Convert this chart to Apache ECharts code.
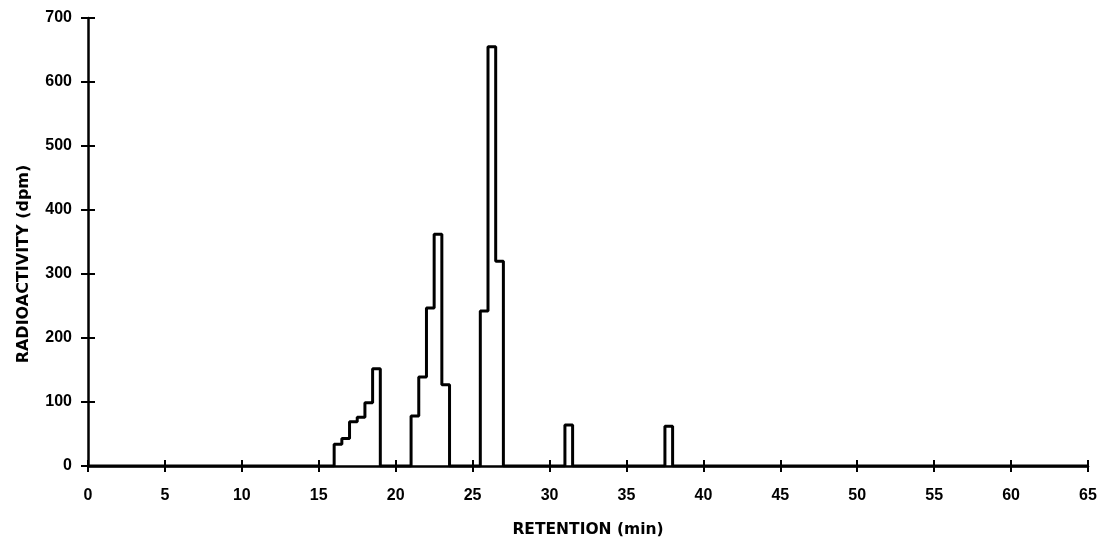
<!DOCTYPE html>
<html>
<head>
<meta charset="utf-8">
<script src="https://cdn.jsdelivr.net/npm/echarts@6/dist/echarts.min.js"></script>
<style>
  html, body { margin: 0; padding: 0; background: #fff; }
  #main { width: 1100px; height: 543px; }
</style>
</head>
<body>
<div id="main"></div>
<script>
// retention (min) where the count changes, and the dpm from there on
var retention = [0, 16, 16.5, 17, 17.5, 18, 18.5, 19, 21, 21.5, 22, 22.5, 23, 23.5, 25.5, 26, 26.5, 27, 31, 31.5, 37.5, 38, 65];
var dpm       = [0, 34, 43,   69, 76,   99, 152,  0,  78, 139,  247, 362,  127, 0,   242,  655, 320,  0,  64, 0,    62,   0,  0];

var points = retention.map(function (r, i) { return [r, dpm[i]]; });

var tickFont = { color: '#000', fontFamily: 'Liberation Sans', fontSize: 16, fontWeight: 'bold' };

var myChart = echarts.init(document.getElementById('main'));

myChart.setOption({
    animation: false,
    grid: { left: 88, right: 12, top: 18, bottom: 77 },
    xAxis: [{
        type: 'value',
        min: 0, max: 65, interval: 5,
        name: 'RETENTION (min)',
        nameLocation: 'middle',
        nameGap: 56,
        nameTextStyle: { color: '#000', fontFamily: 'DejaVu Sans', fontSize: 15.5, fontWeight: 'bold' },
        axisLine: { lineStyle: { color: '#000', width: 2.5 } },
        axisTick: { length: 6, lineStyle: { color: '#000', width: 2 } },
        axisLabel: Object.assign({ margin: 22 }, tickFont),
        splitLine: { show: false }
    }, {
        // inner half of the crossing ticks
        type: 'value',
        min: 0, max: 65, interval: 5,
        position: 'bottom',
        axisLine: { show: false },
        axisTick: { inside: true, length: 6, lineStyle: { color: '#000', width: 2 } },
        axisLabel: { show: false },
        splitLine: { show: false }
    }],
    yAxis: [{
        type: 'value',
        min: 0, max: 700, interval: 100,
        name: 'RADIOACTIVITY (dpm)',
        nameLocation: 'middle',
        nameGap: 56,
        nameTextStyle: { color: '#000', fontFamily: 'DejaVu Sans', fontSize: 16, fontWeight: 'bold', padding: [0, 44, 0, 0] },
        axisLine: { show: true, lineStyle: { color: '#000', width: 2.5 } },
        axisTick: { show: true, length: 7, lineStyle: { color: '#000', width: 2 } },
        axisLabel: Object.assign({ margin: 16 }, tickFont),
        splitLine: { show: false }
    }, {
        type: 'value',
        min: 0, max: 700, interval: 100,
        position: 'left',
        axisLine: { show: false },
        axisTick: { show: true, inside: true, length: 7, lineStyle: { color: '#000', width: 2 } },
        axisLabel: { show: false },
        splitLine: { show: false }
    }],
    series: [{
        type: 'line',
        step: 'end',
        symbol: 'none',
        data: points,
        lineStyle: { color: '#000', width: 3 }
    }]
});
</script>
</body>
</html>
